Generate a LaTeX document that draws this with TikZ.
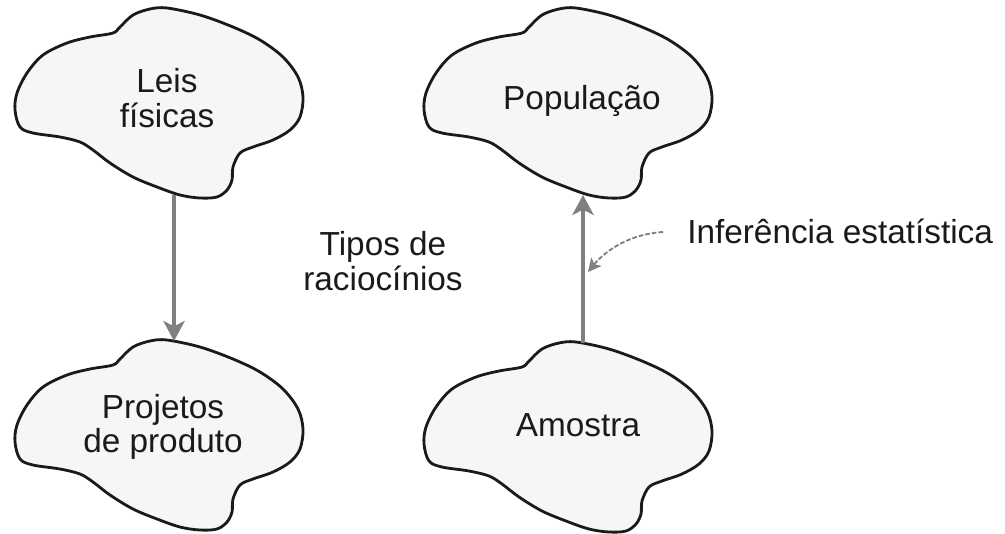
\documentclass[tikz,border=0pt]{standalone}
\usepackage{fontspec}
\setmainfont{Liberation Sans}
\usetikzlibrary{arrows.meta}
\definecolor{ink}{HTML}{1A1A1A}
\definecolor{arrowgray}{HTML}{808080}
\definecolor{blobfill}{HTML}{F6F6F4}
\tikzset{
  blobline/.style={draw=ink, line width=2.1pt, fill=blobfill, line join=round},
  lbl/.style={text=ink, font=\fontsize{25}{26}\selectfont, align=center, inner sep=0pt},
  mainarrow/.style={draw=arrowgray, line width=2.4pt, -{Stealth[length=15pt,width=16pt,inset=4pt]}},
  hintarrow/.style={draw=arrowgray, line width=1.4pt, dash pattern=on 3.5pt off 1.5pt, -{Stealth[length=10pt,width=10pt,inset=2.5pt]}},
  pics/blob/.style={code={
    \draw[blobline] plot[smooth cycle, tension=0.55] coordinates {
      (-52,-67) (-45,-73) (-32,-85) (-15,-91) (2,-92) (35,-85) (68,-73)
      (95,-60) (118,-43) (133,-23) (138,-3) (135,17) (125,30) (108,40)
      (88,47) (75,53) (68,67) (67,80) (62,90) (52,97) (35,98) (15,95)
      (-8,87) (-32,77) (-55,63) (-72,50) (-85,42) (-105,37) (-132,33)
      (-145,27) (-150,10) (-148,-7) (-138,-27) (-122,-45) (-98,-57) (-75,-63)};
    \coordinate (-top) at (9,-91);
    \coordinate (-bot) at (9,95);
  }}
}
\begin{document}
\begin{tikzpicture}[x=0.75pt,y=-0.75pt]
  \useasboundingbox[fill=white] (0,0) rectangle (1005,533);
  \pic (A) at (165,100) {blob};
  \pic (B) at (574,100) {blob};
  \pic (C) at (165,432) {blob};
  \pic (D) at (574,434) {blob};
  \node[lbl] (leis) at (167,98) {Leis\\físicas};
  \node[lbl] (pop) at (582,101) {População};
  \node[lbl] (proj) at (163,427) {Projetos\\de produto};
  \node[lbl] (amo) at (578,425) {Amostra};
  \node[lbl] (tipos) at (383,261) {Tipos de\\raciocínios};
  \node[lbl, anchor=base west] (inf) at (687,243) {Inferência estatística};
  \draw[mainarrow] (A-bot) -- (C-top);
  \draw[mainarrow] (D-top) -- (B-bot);
  \coordinate (hintstart) at (663,232);
  \coordinate (hintend) at (588,272);
  \draw[hintarrow] (hintstart) .. controls (630,234) and (606,250) .. (hintend);
\end{tikzpicture}
\end{document}
